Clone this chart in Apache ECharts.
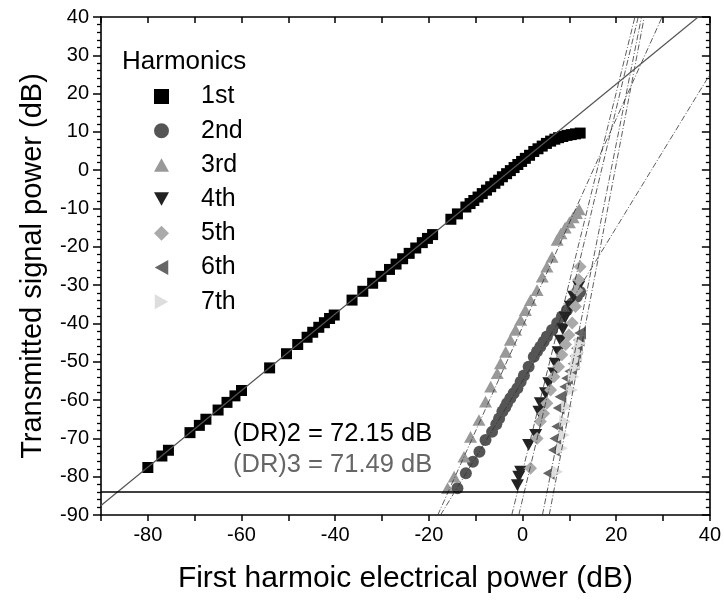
<!DOCTYPE html>
<html><head><meta charset="utf-8">
<script src="https://cdn.jsdelivr.net/npm/echarts@6/dist/echarts.min.js"></script>
<style>html,body{margin:0;padding:0;background:#fff}#c{width:724px;height:601px}</style>
</head><body><div id="c"></div>
<script>
const FONT = '"Liberation Sans", Arial, sans-serif';
const seriesNames = ['1st','2nd','3rd','4th','5th','6th','7th'];
const xTickLabels = [-80,-60,-40,-20,0,20,40];

const h1x = [-80,-77,-75.6,-71,-69,-67.6,-65,-63.1,-61.4,-60,-54,-50.4,-48,-46,-44.8,-43.5,-42.3,-41.2,-40.2,-36.4,-34.1,-32,-30.2,-28.4,-27,-25.6,-24.2,-22.8,-21.4,-20.3,-19.2,-15.3,-13.9,-12.1,-11.2,-10.4,-9.5,-8.6,-7.7,-6.8,-5.9,-5.1,-4.3,-3.4,-2.6,-1.8,-1.0,-0.2,0.6,1.5,2.4,3.3,4.2,5.1,6.0,6.9,7.7,8.6,9.5,10.4,11.3,12.3];
const h1y = [-77.6,-74.6,-73.1,-68.5,-66.6,-65.0,-62.6,-60.6,-58.9,-57.5,-51.6,-47.9,-45.5,-43.6,-42.3,-41.0,-39.8,-38.7,-37.8,-33.9,-31.6,-29.5,-27.7,-25.9,-24.5,-23.1,-21.7,-20.3,-18.9,-17.8,-16.8,-12.8,-11.4,-9.6,-8.7,-7.9,-7.0,-6.1,-5.2,-4.3,-3.4,-2.6,-1.7,-0.9,-0.1,0.7,1.5,2.3,3.1,3.9,4.9,5.6,6.3,7.0,7.6,8.1,8.5,8.8,9.1,9.3,9.5,9.7];

const h2x = [-13.9,-12.1,-10.6,-9.2,-7.9,-6.5,-5.6,-5.0,-4.3,-3.7,-3.3,-2.6,-1.9,-1.1,-0.4,0.3,1.3,2.4,3.1,3.8,4.5,5.2,6.3,7.4,8.4,9.5,10.6,11.6,12.3];
const h2y = [-83.0,-79.1,-76.1,-73.5,-70.4,-68.3,-66.3,-64.8,-63.0,-61.9,-60.8,-59.5,-58.2,-56.9,-55.2,-53.6,-51.3,-48.7,-47.3,-46.1,-44.8,-43.4,-41.7,-39.9,-38.2,-36.5,-34.7,-33.0,-31.8];

const h3x = [-16.0,-14.6,-12.5,-11.1,-9.3,-7.9,-6.8,-5.4,-4.7,-3.6,-2.6,-1.5,-0.4,0.6,1.7,3.1,4.2,5.2,6.3,7.4,8.2,9.1,10.0,10.8,11.5,12.1];
const h3y = [-83.0,-80.0,-74.8,-69.6,-65.2,-60.4,-56.5,-53.0,-50.4,-47.4,-44.3,-41.7,-39.1,-36.5,-33.9,-31.3,-27.8,-25.2,-22.6,-18.2,-16.5,-15.0,-13.6,-12.3,-11.2,-10.2];

const h4x = [-1.1,-0.8,-0.4,1.3,2.8,3.5,3.8,4.9,5.6,6.7,7.0,7.6,8.1,8.6,9.1,10.2,10.9,12.0];
const h4y = [-82.2,-80.0,-78.7,-71.7,-69.1,-63.0,-60.8,-58.2,-55.6,-53.0,-50.5,-47.5,-44.5,-41.5,-38.5,-35.6,-33.0,-30.4];

const h5x = [1.7,3.1,3.8,4.5,5.2,6.0,6.7,7.7,8.4,9.2,9.9,10.6,11.3,11.6,12.0,12.3];
const h5y = [-77.8,-70.0,-65.6,-63.5,-60.8,-57.4,-53.9,-51.3,-48.2,-45.5,-43.0,-39.9,-35.6,-31.3,-28.6,-25.2];

const h6x = [5.6,6.7,7.0,7.4,7.7,8.1,9.1,9.5,10.2,10.9,11.3,11.6,12.0,12.3];
const h6y = [-79.1,-73.0,-70.0,-66.9,-62.1,-59.1,-56.5,-54.3,-52.5,-50.5,-48.5,-46.5,-44.3,-42.5];

const h7x = [7.4,8.4,8.8,9.1,9.5,10.6,10.9,11.3,11.6,12.0,12.3];
const h7y = [-78.7,-72.6,-69.1,-65.6,-61.7,-57.4,-53.9,-51.5,-49.5,-47.5,-45.2];

// fitted lines: [x0,y0,x1,y1]
const fit1 = [-90,-87.5,37.5,40];
const fit2 = [-17.5,-90,40,25];
const fit3 = [-18.1,-90,29.8,40];
const fit4 = [-2.3,-90,24.0,40];
const fit5 = [-0.8,-90,24.7,40];
const fit6 = [4.25,-90,25.4,40];
const fit7 = [5.7,-90,26.0,40];
const noiseFloor = -84;

const pairs = (xs, ys) => xs.map((x, i) => [x, ys[i]]);
const seg = f => [[f[0], f[1]], [f[2], f[3]]];

const TRI_UP = 'path://M5,0L10,9L0,9Z';
const TRI_DOWN = 'path://M0,0L10,0L5,9Z';
const TRI_LEFT = 'path://M0,5L9,0L9,10Z';
const TRI_RIGHT = 'path://M0,0L9,5L0,10Z';

const styles = [
  {symbol:'rect', size:11, color:'#000'},
  {symbol:'circle', size:12, color:'#555'},
  {symbol:TRI_UP, size:13, color:'#999'},
  {symbol:TRI_DOWN, size:13, color:'#222'},
  {symbol:'diamond', size:13, color:'#aaa'},
  {symbol:TRI_LEFT, size:13, color:'#666'},
  {symbol:TRI_RIGHT, size:13, color:'#ddd'}
];
const dataSets = [pairs(h1x,h1y),pairs(h2x,h2y),pairs(h3x,h3y),pairs(h4x,h4y),pairs(h5x,h5y),pairs(h6x,h6y),pairs(h7x,h7y)];

const series = seriesNames.map((n, i) => ({
  name: n, type: 'scatter', data: dataSets[i],
  symbol: styles[i].symbol, symbolSize: styles[i].size, symbolKeepAspect: true,
  itemStyle: {color: styles[i].color, opacity: 1}, z: 2
}));
const dashDot = [6, 2, 1, 2];
[fit2, fit3, fit4, fit5, fit6, fit7].forEach(f => series.push({
  type: 'line', data: seg(f), showSymbol: false, symbol: 'none', silent: true, z: 3,
  lineStyle: {color: '#333', width: 0.8, type: dashDot}
}));
series.push({type:'line', data: seg(fit1), symbol:'none', silent:true, z:4,
  lineStyle:{color:'#555', width:1.2}});
series.push({type:'line', data: [[-90, noiseFloor],[40, noiseFloor]], symbol:'none', silent:true, z:4,
  lineStyle:{color:'#000', width:1.5}});

const legendData = seriesNames.map((n, i) => ({name: n, icon: styles[i].symbol === 'rect' ? 'path://M0,0L10,0L10,10L0,10Z' : styles[i].symbol}));

const axisLineStyle = {color:'#000', width:1.6};
const option = {
  animation: false,
  backgroundColor: '#fff',
  textStyle: {fontFamily: FONT},
  grid: {left: 101, right: 12, top: 17, bottom: 86},
  title: {text: 'Harmonics', left: 117, top: 44,
    textStyle: {fontFamily: FONT, fontSize: 26, fontWeight: 'normal', color: '#000'}},
  legend: {
    orient: 'vertical', left: 149, top: 79, itemWidth: 15, itemHeight: 15, itemGap: 9.2,
    data: legendData,
    textStyle: {fontFamily: FONT, fontSize: 25, color: '#000', lineHeight: 25, padding: [0,0,0,27]}
  },
  xAxis: [
    {type:'value', position:'bottom', min:-90, max:40, interval:10,
     name:'First harmoic electrical power (dB)', nameLocation:'middle', nameGap:49,
     nameTextStyle:{fontFamily:FONT, fontSize:30, color:'#000'},
     axisLine:{show:true, onZero:false, lineStyle:axisLineStyle},
     axisTick:{show:true, inside:false, length:6, lineStyle:{width:1.5, color:'#000'}},
     axisLabel:{fontFamily:FONT, fontSize:20, color:'#000', margin:10,
       formatter: v => xTickLabels.indexOf(v) >= 0 ? String(v) : ''},
     splitLine:{show:false}},
    {type:'value', position:'top', min:-90, max:40, interval:10,
     axisLine:{show:true, onZero:false, lineStyle:axisLineStyle},
     axisTick:{show:true, inside:true, length:6, lineStyle:{width:1.5, color:'#000'}},
     axisLabel:{show:false}, splitLine:{show:false}}
  ],
  yAxis: [
    {type:'value', position:'left', min:-90, max:40, interval:10,
     name:'Transmitted signal power (dB)', nameLocation:'middle', nameGap:54,
     nameTextStyle:{fontFamily:FONT, fontSize:29, color:'#000'},
     axisLine:{show:true, onZero:false, lineStyle:axisLineStyle},
     axisTick:{show:true, inside:false, length:8, lineStyle:{width:1.5, color:'#000'}},
     minorTick:{show:true, splitNumber:5, length:4, lineStyle:{width:1.3, color:'#000'}},
     axisLabel:{fontFamily:FONT, fontSize:20, color:'#000', margin:12},
     splitLine:{show:false}, minorSplitLine:{show:false}},
    {type:'value', position:'right', min:-90, max:40, interval:10,
     axisLine:{show:true, onZero:false, lineStyle:axisLineStyle},
     axisTick:{show:true, inside:true, length:8, lineStyle:{width:1.5, color:'#000'}},
     minorTick:{show:true, splitNumber:5, length:4, lineStyle:{width:1.3, color:'#000'}},
     axisLabel:{show:false}, splitLine:{show:false}, minorSplitLine:{show:false}}
  ],
  graphic: [
    {type:'text', left:233, top:421, style:{text:'(DR)2 = 72.15 dB', font:'25.5px ' + FONT, fill:'#000'}},
    {type:'text', left:233, top:452, style:{text:'(DR)3 = 71.49 dB', font:'25.5px ' + FONT, fill:'#666'}}
  ],
  series: series
};
const chart = echarts.init(document.getElementById('c'), null, {renderer:'canvas'});
chart.setOption(option);
</script></body></html>
